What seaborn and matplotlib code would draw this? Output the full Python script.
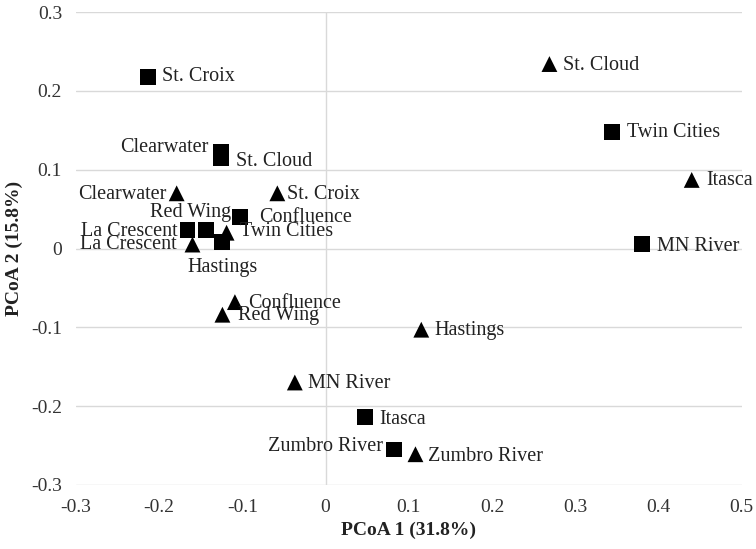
import pandas as pd
import matplotlib
matplotlib.use('Agg')
import matplotlib.pyplot as plt
import seaborn as sns

# sites, PCoA coordinates
sq_sites = ['St. Croix', 'Clearwater', 'St. Cloud', 'Confluence', 'La Crescent',
            'Red Wing', 'Hastings', 'Twin Cities', 'MN River', 'Itasca', 'Zumbro River']
sq_x = [-0.213, -0.126, -0.126, -0.103, -0.166, -0.144, -0.125, 0.344, 0.380, 0.047, 0.082]
sq_y = [0.218, 0.123, 0.115, 0.040, 0.024, 0.024, 0.008, 0.148, 0.006, -0.214, -0.255]

tri_sites = ['St. Cloud', 'Itasca', 'Clearwater', 'St. Croix', 'Twin Cities', 'La Crescent',
             'Confluence', 'Red Wing', 'Hastings', 'MN River', 'Zumbro River']
tri_x = [0.269, 0.440, -0.179, -0.058, -0.119, -0.160, -0.109, -0.124, 0.115, -0.037, 0.108]
tri_y = [0.234, 0.087, 0.070, 0.070, 0.020, 0.005, -0.068, -0.084, -0.103, -0.170, -0.261]

groups = ['square', 'triangle']

df = pd.concat([
    pd.DataFrame({'site': sq_sites, 'x': sq_x, 'y': sq_y, 'group': groups[0]}),
    pd.DataFrame({'site': tri_sites, 'x': tri_x, 'y': tri_y, 'group': groups[1]}),
], ignore_index=True)

sns.set_style('white')
plt.rcParams['font.family'] = ['Liberation Serif', 'DejaVu Serif']

fig = plt.figure(figsize=(7.56, 5.49), dpi=100)
ax = fig.add_axes([0.1005, 0.1166, 0.8805, 0.8615])

grid_col = '#d9d9d9'
for yv in [-0.3, -0.2, -0.1, 0, 0.1, 0.2, 0.3]:
    ax.axhline(yv, color=grid_col, lw=1, zorder=0)
ax.axvline(0, color=grid_col, lw=1, zorder=0)

sns.scatterplot(data=df, x='x', y='y', style='group', markers={'square': 's', 'triangle': '^'},
                color='black', s=130, edgecolor='none', legend=False, ax=ax, zorder=3)

# label offsets in pixels (dx, dy, ha)
offsets = {
    ('square', 'St. Croix'): (14, 0, 'left'),
    ('square', 'Clearwater'): (-12, 4, 'right'),
    ('square', 'St. Cloud'): (15, -4, 'left'),
    ('square', 'Confluence'): (19, -1, 'left'),
    ('square', 'La Crescent'): (-10, -2, 'right'),
    ('square', 'Red Wing'): (-15, 17, 'center'),
    ('square', 'Hastings'): (1, -25, 'center'),
    ('square', 'Twin Cities'): (15, -1, 'left'),
    ('square', 'MN River'): (15, -3, 'left'),
    ('square', 'Itasca'): (15, -2, 'left'),
    ('square', 'Zumbro River'): (-11, 3, 'right'),
    ('triangle', 'St. Cloud'): (14, -1, 'left'),
    ('triangle', 'Itasca'): (15, -1, 'left'),
    ('triangle', 'Clearwater'): (-10, -1, 'right'),
    ('triangle', 'St. Croix'): (10, -1, 'left'),
    ('triangle', 'Twin Cities'): (13, 1, 'left'),
    ('triangle', 'La Crescent'): (-16, 0, 'right'),
    ('triangle', 'Confluence'): (13, -1, 'left'),
    ('triangle', 'Red Wing'): (16, -1, 'left'),
    ('triangle', 'Hastings'): (13, -1, 'left'),
    ('triangle', 'MN River'): (13, -1, 'left'),
    ('triangle', 'Zumbro River'): (13, -2, 'left'),
}

for _, r in df.iterrows():
    dx, dy, ha = offsets[(r['group'], r['site'])]
    ax.annotate(r['site'], (r['x'], r['y']), xytext=(dx, dy), textcoords='offset pixels',
                ha=ha, va='center', fontsize=14.5, color='#222222', zorder=4)

ax.set_xlim(-0.3, 0.5)
ax.set_ylim(-0.3, 0.3)
ax.set_xticks([-0.3, -0.2, -0.1, 0, 0.1, 0.2, 0.3, 0.4, 0.5])
ax.set_xticklabels(['-0.3', '-0.2', '-0.1', '0', '0.1', '0.2', '0.3', '0.4', '0.5'])
ax.set_yticks([-0.3, -0.2, -0.1, 0, 0.1, 0.2, 0.3])
ax.set_yticklabels(['-0.3', '-0.2', '-0.1', '0', '0.1', '0.2', '0.3'])
ax.tick_params(axis='both', length=0, labelsize=14, labelcolor='#333333', pad=10)
for sp in ax.spines.values():
    sp.set_visible(False)

ax.set_xlabel('PCoA 1 (31.8%)', fontsize=14, fontweight='bold', color='#222222', labelpad=4)
ax.set_ylabel('PCoA 2 (15.8%)', fontsize=14, fontweight='bold', color='#222222', labelpad=6)

fig.savefig('out.png', dpi=100)
